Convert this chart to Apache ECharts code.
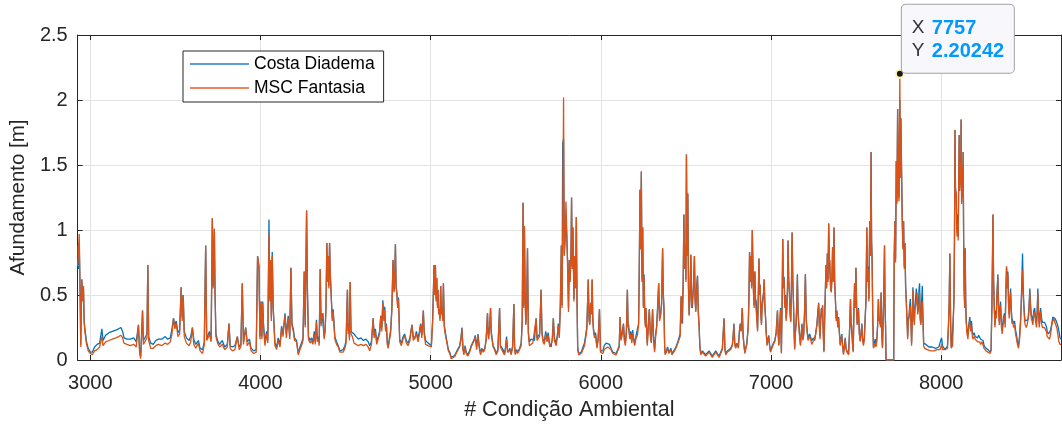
<!DOCTYPE html>
<html>
<head>
<meta charset="utf-8">
<script src="https://cdn.jsdelivr.net/npm/echarts@6/dist/echarts.min.js"></script>
<style>html,body{margin:0;padding:0;background:#fff}#c{width:1062px;height:426px}</style>
</head>
<body>
<div id="c"></div>
<script>
const xMin = 2926, xMax = 8704;
const xTicks = [3000, 4000, 5000, 6000, 7000, 8000];
const yTicks = [0, 0.5, 1, 1.5, 2, 2.5];
const seriesNames = ['Costa Diadema', 'MSC Fantasia'];
const tipX = 7757, tipY = 2.20242;

const xs = [
2926,2931,2935,2940,2944,2950,2955,2960,2964,2970,
2978,2988,3000,3012,3025,3040,3055,3068,3075,3090,
3110,3130,3150,3166,3180,3190,3198,3215,3235,3255,
3270,3283,3290,3296,3302,3307,3312,3322,3333,3338,
3343,3355,3370,3385,3400,3420,3440,3455,3470,3480,
3489,3497,3505,3515,3525,3534,3540,3546,3552,3565,
3580,3590,3600,3608,3620,3635,3645,3660,3670,3678,
3684,3692,3700,3710,3717,3722,3729,3733,3738,3748,
3760,3775,3790,3805,3815,3822,3835,3850,3864,3875,
3885,3893,3900,3913,3922,3935,3945,3960,3975,3983,
3991,3997,4003,4008,4013,4018,4026,4036,4043,4050,
4055,4059,4064,4069,4075,4085,4095,4104,4115,4124,
4132,4144,4152,4163,4172,4179,4185,4193,4200,4212,
4222,4232,4241,4250,4257,4263,4271,4276,4282,4292,
4300,4308,4316,4322,4329,4334,4340,4345,4351,4356,
4362,4368,4374,4380,4385,4390,4394,4398,4402,4406,
4410,4417,4422,4427,4437,4447,4457,4467,4476,4486,
4496,4503,4511,4515,4519,4523,4527,4532,4540,4550,
4562,4575,4590,4605,4620,4633,4642,4652,4662,4668,
4675,4683,4691,4700,4707,4713,4719,4725,4730,4735,
4740,4745,4750,4758,4765,4772,4779,4785,4789,4793,
4797,4801,4806,4811,4818,4828,4838,4847,4857,4867,
4878,4890,4898,4906,4916,4926,4934,4941,4948,4957,
4962,4970,4985,4995,5004,5012,5020,5024,5028,5032,
5036,5040,5043,5047,5051,5055,5059,5063,5067,5071,
5075,5080,5088,5096,5104,5112,5121,5132,5141,5150,
5160,5170,5178,5184,5190,5195,5202,5209,5218,5229,
5238,5248,5256,5262,5270,5278,5285,5293,5300,5309,
5318,5326,5334,5338,5342,5347,5352,5356,5360,5367,
5375,5385,5395,5405,5410,5415,5425,5434,5440,5446,
5452,5458,5466,5473,5482,5489,5493,5497,5505,5512,
5520,5532,5538,5543,5547,5551,5555,5559,5564,5569,
5574,5580,5590,5600,5610,5620,5625,5632,5640,5649,
5654,5660,5668,5676,5684,5690,5700,5708,5715,5721,
5727,5737,5745,5750,5756,5762,5768,5772,5776,5781,
5785,5790,5795,5800,5805,5810,5815,5820,5825,5828,
5832,5836,5842,5846,5851,5856,5860,5864,5870,5878,
5885,5895,5904,5912,5918,5926,5931,5935,5940,5945,
5949,5953,5957,5963,5969,5977,5984,5992,5998,6005,
6012,6020,6031,6040,6051,6060,6070,6080,6090,6100,
6108,6113,6118,6125,6133,6138,6144,6150,6156,6160,
6164,6170,6176,6182,6187,6193,6199,6207,6215,6222,
6226,6230,6234,6238,6242,6246,6250,6254,6258,6262,
6265,6269,6273,6279,6285,6291,6297,6304,6310,6316,
6322,6328,6334,6340,6345,6351,6357,6363,6367,6371,
6375,6378,6385,6392,6400,6412,6418,6425,6433,6441,
6450,6460,6466,6472,6476,6480,6484,6488,6492,6496,
6500,6503,6507,6511,6515,6519,6524,6529,6534,6538,
6544,6550,6554,6558,6563,6568,6573,6577,6582,6587,
6597,6607,6616,6626,6636,6646,6655,6665,6675,6685,
6695,6704,6714,6724,6729,6734,6743,6753,6763,6773,
6778,6782,6787,6792,6800,6808,6814,6819,6825,6831,
6836,6841,6846,6851,6858,6866,6870,6874,6878,6882,
6886,6890,6894,6897,6901,6905,6909,6913,6917,6921,
6925,6929,6933,6936,6940,6944,6948,6952,6956,6960,
6964,6968,6972,6977,6982,6987,6992,6997,7002,7007,
7014,7022,7030,7038,7042,7046,7051,7056,7061,7065,
7069,7073,7077,7081,7085,7089,7093,7097,7100,7104,
7108,7112,7116,7120,7124,7128,7132,7136,7139,7143,
7147,7151,7155,7159,7163,7168,7173,7178,7182,7187,
7192,7197,7202,7207,7212,7217,7221,7227,7233,7239,
7245,7251,7257,7263,7270,7275,7280,7284,7288,7292,
7296,7300,7303,7307,7311,7316,7320,7323,7327,7331,
7335,7339,7343,7346,7350,7354,7358,7362,7366,7370,
7374,7378,7383,7387,7392,7397,7402,7407,7412,7416,
7421,7426,7431,7436,7441,7446,7451,7456,7461,7467,
7471,7475,7479,7483,7487,7491,7495,7499,7503,7506,
7510,7514,7519,7524,7529,7534,7538,7543,7548,7553,
7558,7563,7567,7571,7575,7580,7584,7588,7591,7594,
7598,7602,7607,7612,7617,7621,7626,7631,7635,7639,
7643,7647,7651,7655,7660,7664,7667,7670,7673,7676,
7700,7721,7724,7728,7732,7736,7740,7744,7748,7752,
7757,7760,7763,7767,7771,7775,7779,7783,7787,7791,
7795,7799,7803,7807,7811,7815,7819,7823,7826,7830,
7834,7838,7842,7846,7850,7854,7858,7862,7866,7870,
7873,7877,7881,7885,7889,7893,7897,7903,7910,7918,
7928,7938,7947,7957,7967,7977,7986,7994,8002,8008,
8016,8024,8030,8037,8043,8047,8051,8055,8059,8063,
8067,8071,8075,8078,8081,8084,8088,8091,8093,8097,
8100,8103,8106,8109,8112,8115,8117,8120,8123,8126,
8129,8132,8135,8138,8141,8144,8147,8152,8157,8162,
8168,8173,8178,8183,8187,8193,8200,8207,8214,8220,
8226,8232,8240,8246,8252,8257,8263,8269,8275,8281,
8287,8293,8298,8302,8304,8308,8312,8316,8320,8324,
8328,8333,8337,8341,8345,8349,8354,8358,8361,8366,
8372,8376,8380,8384,8388,8392,8396,8400,8404,8408,
8412,8416,8419,8425,8431,8437,8443,8448,8454,8460,
8466,8470,8474,8478,8482,8486,8490,8494,8500,8505,
8510,8515,8521,8525,8529,8534,8539,8544,8549,8554,
8560,8564,8568,8572,8576,8580,8584,8590,8595,8601,
8607,8613,8618,8623,8630,8637,8643,8650,8656,8662,
8668,8676,8681,8686,8692,8698,8704
];

const msc = [
.72,.85,.97,.50,.10,.62,.45,.57,.28,.20,
.12,.07,.05,.04,.07,.08,.10,.18,.11,.14,
.15,.16,.17,.18,.19,.17,.13,.12,.11,.12,
.10,.27,.05,.01,.20,.38,.12,.13,.17,.73,
.15,.09,.09,.11,.12,.11,.13,.12,.14,.20,
.32,.24,.28,.18,.20,.56,.30,.50,.18,.13,
.11,.14,.25,.12,.09,.13,.07,.05,.12,.88,
.15,.17,.20,.14,1.09,.55,1.01,.52,.18,.13,
.10,.12,.08,.10,.28,.09,.07,.08,.18,.08,
.10,.59,.12,.25,.11,.14,.07,.05,.06,.80,
.72,.16,.45,.16,.44,.25,.11,.20,.13,.97,
.45,.77,.30,.80,.39,.11,.08,.15,.10,.25,
.18,.34,.17,.32,.16,.71,.26,.22,.15,.14,
.04,.08,.11,.15,.68,.25,1.15,.52,.16,.13,
.15,.12,.20,.12,.29,.14,.16,.11,.70,.26,
.34,.36,.16,.22,.40,.90,.60,.80,.55,.90,
.67,.44,.30,.37,.16,.12,.10,.06,.05,.06,
.09,.13,.54,.20,.27,.15,.60,.20,.18,.13,
.12,.11,.12,.11,.12,.10,.07,.12,.32,.17,
.22,.12,.11,.20,.34,.22,.44,.30,.39,.22,
.27,.12,.09,.15,.21,.38,.77,.52,.63,.89,
.55,.52,.40,.47,.14,.11,.16,.19,.13,.11,
.15,.27,.15,.14,.20,.14,.20,.27,.17,.38,
.20,.12,.11,.10,.10,.30,.73,.50,.73,.45,
.63,.40,.54,.35,.37,.30,.57,.35,.39,.30,
.59,.25,.18,.13,.07,.05,.01,.02,.025,.05,
.04,.10,.15,.24,.08,.04,.10,.05,.03,.06,
.10,.09,.15,.18,.08,.19,.10,.04,.08,.06,
.08,.15,.36,.18,.16,.25,.40,.20,.21,.10,
.08,.04,.07,.40,.10,.09,.06,.04,.08,.16,
.06,.05,.08,.04,.10,.43,.10,.04,.07,.05,
.06,.11,.30,1.21,.40,1.03,.50,.27,.40,.86,
.20,.11,.11,.13,.13,.32,.15,.16,.18,.54,
.20,.14,.12,.20,.14,.19,.10,.09,.15,.32,
.15,.11,.18,.27,.17,.42,.88,.40,.95,2.02,
.80,.92,1.22,.98,.70,.37,.77,.60,.86,1.25,
.70,1.02,.45,.80,.55,1.10,.46,.08,.04,.05,
.05,.08,.11,.18,.24,.62,.30,.27,.44,.35,
.62,.30,.22,.17,.19,.09,.15,.39,.06,.05,
.05,.08,.09,.10,.11,.08,.05,.04,.04,.04,
.10,.33,.15,.19,.27,.15,.11,.20,.54,.25,
.27,.16,.20,.13,.21,.15,.11,.17,.19,.27,
.70,1.31,.85,1.45,.60,1.02,.40,.64,.34,.25,
.40,.22,.11,.25,.39,.18,.13,.39,.15,.06,
.18,.25,.40,.59,.30,.34,.42,.86,.50,.39,
.10,.04,.06,.09,.05,.08,.04,.04,.07,.09,
.12,.11,.18,.49,.28,.27,.60,1.12,.70,.88,
.60,1.58,.80,1.28,.55,.34,.50,.81,.40,.39,
.55,.80,.45,.37,.55,.64,.35,.27,.10,.04,
.06,.05,.03,.04,.06,.04,.02,.03,.06,.04,
.02,.03,.08,.32,.08,.04,.06,.05,.08,.11,
.18,.27,.12,.09,.12,.09,.20,.27,.22,.40,
.18,.11,.05,.04,.12,.25,.45,.83,.60,.80,
.55,1.00,.70,.52,.40,.68,.45,.44,.30,.22,
.45,.78,.50,.57,.35,.27,.42,.44,.50,.62,
.40,.32,.20,.11,.15,.18,.10,.06,.08,.08,
.12,.14,.20,.38,.20,.11,.25,.39,.05,.40,
.93,.55,.62,.40,.49,.30,.38,.55,.92,.60,
.52,.35,.29,.55,.98,.60,.44,.20,.08,.20,
.27,.40,.64,.35,.27,.18,.11,.20,.27,.15,
.19,.35,.66,.30,.22,.15,.14,.18,.16,.12,
.11,.15,.14,.20,.27,.35,.43,.25,.16,.30,
.39,.33,.42,.20,.06,.35,.55,.73,.55,.82,
.60,1.05,.75,.77,.55,.52,.62,.87,.60,1.02,
.60,.47,.30,.37,.25,.32,.20,.11,.16,.19,
.10,.04,.10,.16,.08,.06,.05,.04,.20,.47,
.25,.27,.12,.06,.35,.59,.40,.71,.40,.27,
.30,.39,.20,.14,.20,.27,.15,.11,.15,.16,
.45,1.02,.60,.70,.45,1.07,.80,1.60,.90,.77,
.30,.09,.11,.13,.10,.13,.25,.47,.30,.32,
.25,.52,.20,.09,.35,.60,.88,.40,.26,0,
0,0,.80,1.07,.75,1.53,1.20,1.93,1.30,1.22,
2.20242,1.40,1.86,1.86,1.07,.85,1.07,.70,.90,.55,
.44,.30,.16,.30,.32,.40,.42,.25,.11,.30,
.54,.35,.27,.40,.39,.45,.52,.35,.39,.45,
.52,.30,.27,.40,.45,.30,.11,.09,.085,.08,
.075,.07,.075,.07,.075,.08,.075,.08,.12,.08,
.07,.08,.07,.09,.27,.45,.82,.30,.09,.10,
.11,.30,.47,.90,1.77,1.30,1.28,1.00,.95,1.05,
.92,1.40,1.73,1.30,1.53,1.35,1.85,1.20,1.48,1.25,
1.60,.90,.52,.40,.86,.45,.29,.20,.16,.25,
.30,.22,.27,.18,.16,.18,.16,.15,.14,.15,
.14,.12,.14,.13,.09,.09,.07,.08,.06,.07,
.05,.07,.40,.85,1.12,.60,.39,.25,.35,.32,
.50,.64,.40,.27,.35,.42,.25,.20,.19,.30,
.34,.25,.50,.72,.55,.66,.40,.32,.45,.52,
.35,.28,.30,.25,.27,.20,.16,.12,.09,.15,
.27,.40,.55,.69,.50,.39,.30,.27,.25,.27,
.27,.35,.52,.40,.32,.30,.27,.35,.37,.30,
.25,.35,.52,.35,.25,.30,.37,.28,.25,.26,
.25,.24,.22,.18,.17,.16,.20,.27,.30,.32,
.29,.26,.24,.19,.14,.12,.12
];

const costa = [
.88,.70,.90,.55,.12,.62,.47,.55,.30,.22,
.14,.09,.06,.06,.10,.12,.13,.24,.15,.19,
.21,.22,.23,.24,.25,.22,.17,.16,.16,.17,
.14,.27,.07,.03,.22,.38,.15,.16,.20,.73,
.18,.13,.12,.15,.16,.16,.18,.16,.17,.24,
.32,.27,.30,.21,.23,.56,.33,.50,.22,.17,
.15,.18,.25,.16,.12,.15,.09,.08,.14,.88,
.17,.19,.22,.16,1.09,.57,1.01,.52,.20,.15,
.12,.15,.10,.12,.28,.11,.10,.11,.18,.10,
.12,.59,.14,.25,.14,.16,.09,.07,.08,.80,
.72,.18,.45,.18,.45,.27,.14,.22,.15,1.08,
.47,.77,.32,.83,.40,.13,.10,.17,.12,.26,
.20,.36,.20,.34,.18,.71,.28,.24,.17,.15,
.05,.10,.13,.17,.68,.27,1.15,.54,.18,.15,
.17,.14,.22,.14,.31,.16,.18,.13,.70,.28,
.36,.37,.18,.24,.41,.90,.62,.80,.57,.90,
.67,.46,.32,.39,.18,.14,.11,.07,.06,.08,
.11,.15,.54,.22,.28,.17,.60,.22,.21,.20,
.18,.16,.17,.15,.16,.14,.11,.14,.32,.19,
.24,.14,.13,.22,.34,.25,.46,.32,.41,.24,
.28,.14,.10,.17,.23,.40,.77,.53,.65,.89,
.57,.52,.42,.48,.16,.13,.18,.20,.15,.13,
.17,.27,.18,.16,.22,.16,.22,.28,.19,.38,
.22,.15,.13,.12,.11,.32,.73,.52,.73,.47,
.63,.42,.54,.37,.39,.32,.57,.37,.40,.32,
.59,.27,.20,.14,.08,.06,.02,.03,.035,.06,
.05,.11,.17,.25,.09,.05,.11,.06,.04,.07,
.11,.10,.16,.19,.10,.20,.11,.05,.09,.07,
.09,.16,.36,.19,.18,.26,.40,.22,.22,.11,
.09,.05,.08,.40,.11,.11,.08,.05,.10,.18,
.08,.06,.09,.05,.11,.43,.12,.05,.08,.06,
.08,.13,.30,1.21,.42,1.03,.52,.28,.42,.86,
.22,.14,.16,.17,.15,.32,.17,.18,.20,.54,
.22,.16,.14,.22,.16,.21,.12,.10,.17,.32,
.17,.13,.20,.28,.19,.42,.88,.42,1.67,1.70,
.82,.95,1.12,1.12,.75,.40,.77,.62,.86,1.25,
.72,1.02,.47,.80,.57,1.10,.48,.10,.05,.06,
.06,.10,.13,.20,.26,.62,.32,.28,.44,.37,
.62,.32,.24,.19,.21,.10,.16,.39,.07,.06,
.07,.11,.13,.13,.12,.09,.06,.05,.05,.05,
.11,.33,.17,.21,.28,.17,.13,.22,.54,.27,
.28,.18,.22,.15,.23,.16,.13,.19,.20,.28,
.72,1.31,.87,1.45,.62,1.02,.42,.66,.35,.27,
.40,.24,.13,.26,.39,.20,.14,.39,.17,.08,
.20,.26,.42,.59,.32,.35,.44,.86,.52,.40,
.11,.05,.07,.10,.06,.09,.05,.05,.08,.10,
.13,.12,.20,.49,.30,.28,.60,1.12,.72,.88,
.62,1.58,.82,1.28,.57,.35,.52,.81,.42,.40,
.57,.80,.47,.38,.57,.65,.37,.28,.11,.05,
.07,.06,.04,.05,.07,.05,.03,.04,.07,.05,
.03,.04,.09,.32,.09,.05,.07,.06,.09,.12,
.20,.28,.13,.10,.13,.10,.22,.28,.24,.40,
.20,.12,.06,.05,.13,.26,.47,.83,.62,.80,
.57,1.00,.72,.53,.42,.68,.47,.45,.32,.24,
.47,.78,.52,.58,.37,.28,.44,.45,.52,.62,
.42,.33,.21,.12,.16,.19,.11,.07,.09,.09,
.13,.15,.21,.38,.21,.12,.26,.40,.06,.42,
.93,.57,.64,.42,.50,.32,.40,.57,.92,.62,
.53,.37,.30,.57,.98,.62,.45,.21,.09,.21,
.28,.42,.66,.37,.28,.19,.12,.21,.28,.16,
.20,.37,.66,.32,.23,.17,.16,.20,.19,.15,
.14,.17,.15,.21,.28,.37,.44,.27,.18,.32,
.40,.35,.42,.21,.07,.37,.57,.73,.57,.82,
.62,1.05,.77,.78,.57,.53,.64,.87,.62,1.02,
.62,.48,.32,.38,.27,.33,.21,.12,.17,.20,
.11,.05,.11,.17,.09,.07,.06,.05,.21,.47,
.27,.28,.13,.07,.37,.59,.42,.71,.42,.28,
.32,.40,.21,.15,.21,.28,.16,.13,.17,.18,
.47,1.02,.62,.72,.47,1.07,.82,1.60,.92,.78,
.32,.10,.13,.16,.13,.15,.26,.47,.32,.33,
.27,.52,.21,.10,.37,.62,.88,.42,.28,0,
0,0,.80,1.07,.78,1.53,1.22,1.93,1.35,1.25,
2.00,1.45,1.86,1.85,1.10,.87,1.07,.72,.90,.57,
.46,.32,.18,.32,.34,.42,.47,.27,.13,.32,
.56,.38,.29,.42,.41,.55,.54,.37,.42,.55,
.59,.32,.29,.45,.57,.33,.13,.13,.12,.11,
.10,.10,.10,.10,.09,.10,.10,.11,.17,.11,
.09,.10,.09,.11,.27,.45,.82,.32,.10,.12,
.13,.32,.47,.92,1.77,1.32,1.28,1.02,1.12,1.08,
.95,1.40,1.73,1.32,1.53,1.38,1.85,1.22,1.48,1.27,
1.60,.92,.55,.42,.86,.47,.31,.22,.19,.27,
.33,.26,.30,.21,.19,.21,.18,.18,.17,.19,
.19,.16,.17,.15,.11,.10,.09,.10,.08,.09,
.06,.08,.42,.87,1.12,.62,.41,.27,.38,.34,
.52,.66,.43,.30,.38,.45,.28,.23,.22,.33,
.36,.28,.53,.72,.58,.68,.43,.35,.48,.55,
.38,.32,.33,.28,.30,.23,.19,.14,.11,.18,
.30,.43,.62,.82,.55,.42,.34,.30,.30,.31,
.31,.39,.55,.43,.35,.33,.30,.38,.40,.33,
.29,.38,.55,.38,.28,.34,.40,.32,.29,.30,
.29,.28,.26,.22,.20,.19,.23,.28,.33,.34,
.32,.30,.28,.26,.22,.17,.16
];

const FONT = '"Liberation Sans", Arial, Helvetica, sans-serif';
const AX = '#262626';
const pair = (ys) => xs.map((x, i) => [x, ys[i]]);

const chart = echarts.init(document.getElementById('c'), null, {renderer: 'canvas'});
const baseX = {
  type: 'value', min: xMin, max: xMax,
  axisLine: {show: true, onZero: false, lineStyle: {color: AX, width: 1}},
  axisTick: {show: true, inside: true, length: 5, customValues: xTicks, lineStyle: {color: AX}},
  minorTick: {show: false}
};
const baseY = {
  type: 'value', min: 0, max: 2.5, interval: 0.5,
  axisLine: {show: true, onZero: false, lineStyle: {color: AX, width: 1}},
  axisTick: {show: true, inside: true, length: 5, lineStyle: {color: AX}}
};

chart.setOption({
  animation: false,
  backgroundColor: '#ffffff',
  textStyle: {fontFamily: FONT},
  grid: {left: 76, right: 1, top: 35, bottom: 62, containLabel: false},
  legend: {
    data: [
      {name: seriesNames[0], itemStyle: {color: '#5a9fd6'}},
      {name: seriesNames[1], itemStyle: {color: '#e8865d'}}
    ],
    orient: 'vertical', left: 183, top: 51,
    padding: [3, 9, 4, 7],
    itemWidth: 59, itemHeight: 2, itemGap: 4,
    icon: 'rect',
    backgroundColor: '#ffffff', borderColor: AX, borderWidth: 1,
    textStyle: {fontFamily: FONT, fontSize: 17.5, color: '#000', lineHeight: 20}
  },
  xAxis: [
    Object.assign({}, baseX, {
      position: 'bottom',
      axisLabel: {show: true, customValues: xTicks, fontFamily: FONT, fontSize: 20, color: AX, margin: 13,
        formatter: (v) => String(v)},
      splitLine: {show: true, lineStyle: {color: '#e3e3e3', width: 1}},
      name: '# Condição Ambiental', nameLocation: 'middle', nameGap: 39,
      nameTextStyle: {fontFamily: FONT, fontSize: 21.5, color: AX}
    }),
    Object.assign({}, baseX, {
      position: 'top',
      axisLabel: {show: false},
      splitLine: {show: false}
    })
  ],
  yAxis: [
    Object.assign({}, baseY, {
      position: 'left',
      axisLabel: {show: true, fontFamily: FONT, fontSize: 20, color: AX, margin: 10,
        formatter: (v) => String(yTicks.find(t => Math.abs(t - v) < 1e-9) ?? v)},
      splitLine: {show: true, lineStyle: {color: '#e3e3e3', width: 1}},
      name: 'Afundamento [m]', nameLocation: 'middle', nameGap: 46,
      nameTextStyle: {fontFamily: FONT, fontSize: 20.5, color: AX}
    }),
    Object.assign({}, baseY, {
      position: 'right',
      axisLabel: {show: false},
      splitLine: {show: false}
    })
  ],
  series: [
    {
      name: seriesNames[0], type: 'line', xAxisIndex: 0, yAxisIndex: 0,
      data: pair(costa), showSymbol: false, symbol: 'none',
      lineStyle: {color: '#0072BD', width: 1.3},
      itemStyle: {color: '#0072BD'},
      emphasis: {disabled: true}, z: 2
    },
    {
      name: seriesNames[1], type: 'line', xAxisIndex: 0, yAxisIndex: 0,
      data: pair(msc), showSymbol: false, symbol: 'none',
      lineStyle: {color: '#D95319', width: 1.3},
      itemStyle: {color: '#D95319'},
      emphasis: {disabled: true}, z: 3,
      markPoint: {
        symbol: 'circle', symbolSize: 8,
        itemStyle: {color: '#1a1a1a', borderColor: '#fff7b8', borderWidth: 2},
        data: [{coord: [tipX, tipY]}],
        z: 10,
        label: {
          show: true,
          position: [7, -64],
          formatter: () => '{k|X}{v|' + tipX + '}\n{k|Y}{v|' + tipY + '}',
          backgroundColor: '#f8f8fc',
          borderColor: '#a3a3a3', borderWidth: 1, borderRadius: 4,
          padding: [12, 10, 10, 10],
          width: 92,
          rich: {
            k: {fontFamily: FONT, fontSize: 19, color: '#333', width: 20, lineHeight: 23},
            v: {fontFamily: FONT, fontSize: 20, color: '#0099FF', fontWeight: 'bold', lineHeight: 23}
          }
        }
      }
    }
  ]
});
</script>
</body>
</html>
